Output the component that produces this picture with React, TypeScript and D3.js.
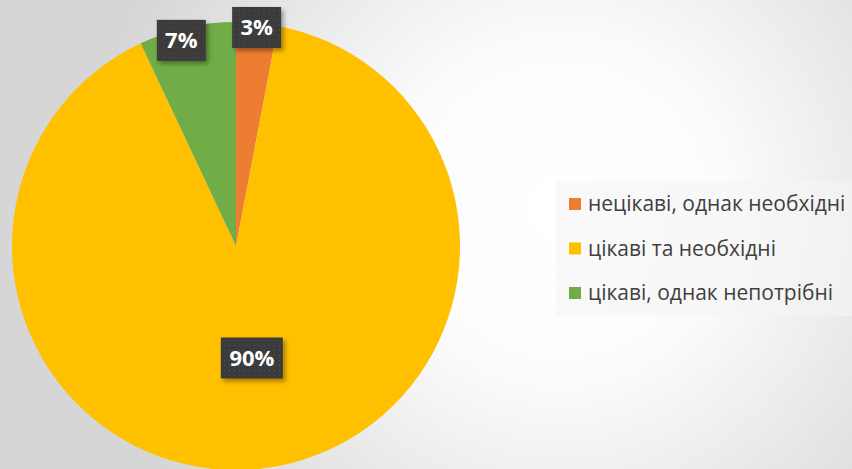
import React from "react";
import * as d3 from "d3";

const categories = ["нецікаві, однак необхідні", "цікаві та необхідні", "цікаві, однак непотрібні"];
const values = [3, 90, 7];
const labels = ["3%", "90%", "7%"];
const colors = ["#ED7D31", "#FFC000", "#70AD47"];
const legendOrder = [0, 1, 2];

const W = 852;
const H = 469;

export default function App() {
  const cx = 236;
  const cy = 246;
  const r = 224;
  const pie = d3.pie<number>().sort(null).value((d) => d);
  const arcs = pie(values);
  const arc = d3.arc<d3.PieArcDatum<number>>().innerRadius(0).outerRadius(r);
  const labelRadiusFrac = [0.98, 0.505, 0.95];
  const labelAngleShift = [0.0, -0.015, -0.04];

  const legendY = d3.scalePoint<number>().domain(legendOrder).range([204, 293]);

  return (
    <svg
      width={W}
      height={H}
      style={{ position: "absolute", left: 0, top: 0, display: "block" }}
      fontFamily="'Open Sans', 'Noto Sans', sans-serif"
    >
      <defs>
        <radialGradient id="bg" gradientUnits="userSpaceOnUse" cx={560} cy={210} r={470}>
          <stop offset="0" stopColor="#ffffff" />
          <stop offset="0.35" stopColor="#fcfcfc" />
          <stop offset="1" stopColor="#d6d6d6" />
        </radialGradient>
        <pattern id="dots" width="5" height="5" patternUnits="userSpaceOnUse">
          <rect width="5" height="5" fill="#3b3b3b" />
          <rect x="2" y="2" width="1" height="1" fill="#555555" />
        </pattern>
        <filter id="shadow" x="-30%" y="-30%" width="160%" height="160%">
          <feDropShadow dx="2.5" dy="3" stdDeviation="2" floodColor="#000" floodOpacity="0.35" />
        </filter>
      </defs>
      <rect width={W} height={H} fill="url(#bg)" />
      <g transform={`translate(${cx},${cy})`}>
        {arcs.map((a, i) => (
          <path key={i} d={arc(a) || ""} fill={colors[i]} />
        ))}
        {arcs.map((a, i) => {
          const mid = (a.startAngle + a.endAngle) / 2 + labelAngleShift[i];
          const lr = r * labelRadiusFrac[i];
          const x = Math.sin(mid) * lr;
          const y = -Math.cos(mid) * lr;
          const bw = labels[i].length > 2 ? 62 : 49;
          const bh = 41;
          return (
            <g key={"l" + i} transform={`translate(${x},${y})`}>
              <rect x={-bw / 2} y={-bh / 2} width={bw} height={bh} fill="url(#dots)" filter="url(#shadow)" />
              <text
                x={0}
                y={0}
                dy="0.36em"
                textAnchor="middle"
                fill="#ffffff"
                fontWeight="bold"
                fontSize={22}
              >
                {labels[i]}
              </text>
            </g>
          );
        })}
      </g>
      <rect x={556} y={181} width={296} height={135} fill="#f5f5f5" opacity={0.6} />
      {legendOrder.map((i) => (
        <g key={"g" + i} transform={`translate(569,${legendY(i)})`}>
          <rect x={0} y={-6} width={12} height={12} fill={colors[i]} />
          <text x={19} y={0} dy="0.35em" fontSize={21} fill="#404040">
            {categories[i]}
          </text>
        </g>
      ))}
    </svg>
  );
}
